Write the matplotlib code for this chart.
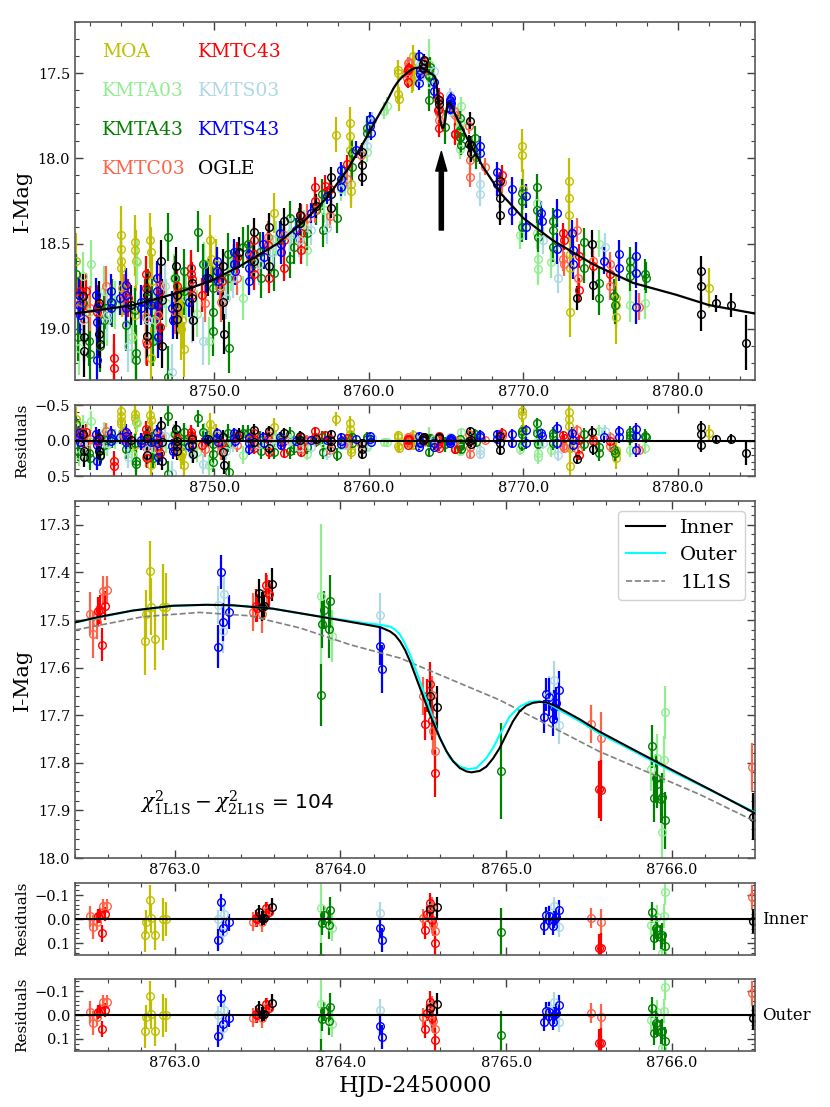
import numpy as np
import matplotlib
matplotlib.use("Agg")
import matplotlib.pyplot as plt
from matplotlib.ticker import MultipleLocator, FuncFormatter

plt.rcParams['font.family'] = 'DejaVu Serif'
plt.rcParams['mathtext.fontset'] = 'dejavuserif'

# ---- photometry (HJD-2450000, I mag, error) ----
moa_t = [8743.95, 8743.97, 8743.99, 8744.00, 8744.02, 8744.88, 8744.90, 8744.93, 8745.88, 8745.90, 8745.93,
         8747.90, 8748.02, 8749.75, 8749.78, 8753.90, 8757.88, 8758.78, 8758.80, 8758.82, 8758.84, 8758.86,
         8761.88, 8761.90, 8761.92, 8761.95,
         8762.82, 8762.83, 8762.85, 8762.86, 8762.88, 8762.93, 8762.95,
         8769.93, 8769.95, 8769.97, 8772.95, 8772.97, 8772.98, 8773.00, 8773.01, 8773.03, 8775.98, 8776.00,
         8776.02, 8782.00,
         8741.05, 8744.85, 8745.95, 8747.75, 8747.85, 8750.15]
moa_mag = [18.45, 18.53, 18.60, 18.64, 18.76, 18.49, 18.54, 18.60, 18.48, 18.55, 19.17,
           18.95, 19.12, 18.48, 18.59, 18.32, 17.86, 17.79, 17.87, 17.95, 18.15, 18.19,
           17.48, 17.50, 17.62, 17.65,
           17.545, 17.487, 17.397, 17.472, 17.540, 17.473, 17.472,
           17.93, 17.98, 18.18, 18.13, 18.23, 18.33, 18.56, 18.64, 18.90, 18.82, 18.86,
           18.93, 18.76,
           18.60, 18.92, 18.72, 18.86, 19.00, 18.62]
moa_err = [0.17, 0.16, 0.18, 0.15, 0.17, 0.16, 0.15, 0.18, 0.16, 0.15, 0.18,
           0.17, 0.16, 0.15, 0.14, 0.12, 0.10, 0.09, 0.10, 0.09, 0.11, 0.10,
           0.06, 0.05, 0.06, 0.07,
           0.070, 0.050, 0.063, 0.060, 0.065, 0.090, 0.070,
           0.10, 0.10, 0.12, 0.13, 0.12, 0.14, 0.15, 0.13, 0.15, 0.13, 0.14,
           0.16, 0.12,
           0.16, 0.17, 0.16, 0.17, 0.18, 0.15]

kmta03_t = [8741.25, 8741.50, 8742.03, 8742.90, 8743.60, 8745.04, 8746.20, 8747.40, 8748.90, 8749.34,
            8749.67, 8751.10, 8751.90, 8752.90, 8754.00, 8755.00, 8756.01, 8757.10, 8758.20, 8759.90,
            8760.96, 8761.17,
            8763.88, 8763.95, 8765.87, 8765.91, 8765.94, 8765.95, 8765.96,
            8769.80, 8770.90, 8770.92, 8770.94, 8770.96, 8771.80, 8774.90, 8776.90, 8777.90,
            8741.90, 8743.10, 8744.70, 8746.90, 8748.20, 8750.40, 8753.60, 8755.80]
kmta03_mag = [19.11, 18.69, 18.62, 18.78, 18.86, 18.61, 18.95, 18.70, 18.91, 18.62,
              19.07, 18.66, 18.82, 18.58, 18.47, 18.43, 18.54, 18.30, 18.18, 17.96,
              17.72, 17.69,
              17.449, 17.533, 17.814, 17.790, 17.946, 17.793, 17.694,
              18.45, 18.26, 18.44, 18.59, 18.65, 18.61, 18.50, 18.86, 18.85,
              18.90, 18.95, 19.05, 18.85, 18.82, 18.75, 18.55, 18.40]
kmta03_err = [0.16, 0.14, 0.14, 0.15, 0.14, 0.13, 0.15, 0.14, 0.14, 0.13,
              0.14, 0.12, 0.13, 0.11, 0.10, 0.10, 0.09, 0.08, 0.07, 0.06,
              0.05, 0.05,
              0.150, 0.055, 0.045, 0.050, 0.060, 0.050, 0.055,
              0.08, 0.08, 0.09, 0.10, 0.09, 0.09, 0.08, 0.10, 0.09,
              0.14, 0.15, 0.15, 0.14, 0.13, 0.13, 0.11, 0.10]

kmta43_t = [8741.05, 8741.20, 8741.90, 8741.95, 8742.90, 8743.00, 8744.90, 8744.92, 8744.95, 8745.50,
            8746.00, 8746.02, 8747.00, 8747.02, 8748.05, 8748.07, 8748.96, 8749.90, 8749.92, 8749.94,
            8750.90, 8750.92, 8750.94, 8751.90, 8752.50, 8753.00, 8753.02, 8753.86, 8754.90, 8754.92,
            8755.50, 8756.00, 8756.60, 8757.00, 8757.02, 8757.95, 8758.90, 8758.92, 8759.90, 8759.92,
            8763.88, 8763.89, 8763.90, 8763.93, 8763.94, 8764.97, 8765.88, 8765.89, 8765.90, 8765.91,
            8765.93, 8765.94, 8765.96,
            8766.90, 8766.92, 8769.90, 8769.92, 8769.94, 8770.90, 8770.92, 8770.94, 8771.90, 8771.92,
            8771.94, 8773.90, 8773.92, 8774.90, 8774.92, 8775.90, 8775.92, 8776.90, 8776.92, 8776.94,
            8777.90, 8777.92,
            8741.50, 8742.60, 8743.40, 8744.30, 8745.70, 8747.50, 8749.30, 8751.30, 8752.20, 8754.30,
            8755.20, 8758.30]
kmta43_mag = [18.68, 19.05, 19.07, 19.15, 18.95, 18.88, 18.89, 19.14, 19.18, 18.84,
              18.85, 19.07, 18.46, 19.28, 18.66, 18.78, 18.43, 18.76, 18.90, 19.01,
              18.56, 18.70, 19.11, 18.52, 18.62, 18.55, 18.70, 18.67, 18.35, 18.59,
              18.38, 18.44, 18.30, 18.21, 18.42, 18.35, 17.97, 18.05, 17.82, 17.85,
              17.657, 17.509, 17.479, 17.519, 17.461, 17.817, 17.765, 17.874, 17.832, 17.845,
              17.877, 17.872, 17.921,
              17.88, 17.99, 18.20, 18.25, 18.40, 18.17, 18.30, 18.46, 18.37, 18.42,
              18.52, 18.49, 18.64, 18.73, 18.82, 18.81, 18.86, 18.60, 18.64, 18.69,
              18.68, 18.70,
              18.85, 19.10, 18.85, 18.98, 18.78, 18.70, 18.62, 18.62, 18.50, 18.47,
              18.52, 18.12]
kmta43_err = [0.12, 0.14, 0.15, 0.16, 0.14, 0.12, 0.13, 0.16, 0.17, 0.13,
              0.14, 0.15, 0.14, 0.18, 0.13, 0.14, 0.12, 0.13, 0.14, 0.15,
              0.12, 0.13, 0.15, 0.12, 0.11, 0.12, 0.12, 0.11, 0.10, 0.11,
              0.09, 0.10, 0.09, 0.09, 0.10, 0.09, 0.08, 0.08, 0.07, 0.07,
              0.065, 0.050, 0.040, 0.060, 0.055, 0.100, 0.045, 0.050, 0.050, 0.050,
              0.050, 0.050, 0.060,
              0.07, 0.07, 0.08, 0.08, 0.09, 0.08, 0.08, 0.09, 0.08, 0.08,
              0.09, 0.08, 0.09, 0.09, 0.10, 0.10, 0.11, 0.08, 0.08, 0.09,
              0.09, 0.09,
              0.14, 0.15, 0.14, 0.15, 0.13, 0.13, 0.12, 0.12, 0.11, 0.10,
              0.10, 0.08]

kmtc03_t = [8741.20, 8742.00, 8743.00, 8745.60, 8745.62, 8746.50, 8747.50, 8748.50, 8750.40, 8750.42,
            8751.50, 8752.60, 8753.50, 8754.50, 8755.60, 8756.50, 8757.50, 8758.60, 8759.50,
            8762.49, 8762.51, 8762.53, 8762.57, 8762.59, 8763.47, 8763.53, 8763.56, 8764.50, 8764.55,
            8764.56, 8764.57, 8765.51, 8765.57, 8766.48,
            8766.56, 8766.58, 8767.50, 8768.60, 8772.60, 8772.62, 8773.50, 8773.52, 8774.50, 8775.60,
            8775.62, 8777.50,
            8741.40, 8742.60, 8744.20, 8746.40, 8749.40, 8752.30, 8756.00]
kmtc03_mag = [18.82, 18.88, 18.75, 18.93, 19.07, 18.74, 18.90, 18.76, 18.76, 18.84,
              18.70, 18.64, 18.46, 18.45, 18.50, 18.30, 18.34, 18.12, 17.98,
              17.487, 17.530, 17.505, 17.438, 17.437, 17.483, 17.488, 17.440, 17.659, 17.657,
              17.734, 17.775, 17.719, 17.748, 17.809,
              18.01, 18.11, 18.05, 18.14, 18.59, 18.62, 18.42, 18.70, 18.60, 18.62,
              18.75, 18.87,
              18.84, 18.90, 18.80, 18.92, 18.85, 18.58, 18.35]
kmtc03_err = [0.12, 0.13, 0.12, 0.13, 0.14, 0.12, 0.13, 0.11, 0.11, 0.12,
              0.10, 0.09, 0.09, 0.09, 0.08, 0.08, 0.07, 0.06, 0.06,
              0.045, 0.050, 0.035, 0.030, 0.030, 0.040, 0.040, 0.035, 0.040, 0.040,
              0.050, 0.050, 0.040, 0.055, 0.050,
              0.06, 0.06, 0.05, 0.06, 0.07, 0.07, 0.07, 0.08, 0.07, 0.07,
              0.08, 0.08,
              0.12, 0.13, 0.12, 0.12, 0.11, 0.10, 0.08]

kmtc43_t = [8741.60, 8741.70, 8742.50, 8743.50, 8743.52, 8745.60, 8745.62, 8745.64, 8746.50, 8746.52,
            8748.50, 8748.52, 8748.54, 8748.56, 8750.50, 8752.57, 8752.59, 8752.61, 8753.50, 8753.52,
            8754.50, 8754.52, 8755.60, 8755.62, 8755.64, 8756.50, 8756.52, 8757.50, 8758.60,
            8762.54, 8762.55, 8762.56, 8762.58, 8763.49, 8763.50, 8763.55, 8763.57, 8764.51, 8764.52,
            8764.54, 8764.55, 8764.57, 8765.56, 8765.57,
            8768.60, 8772.60, 8772.62, 8773.60, 8773.62, 8774.50, 8775.60,
            8741.30, 8742.40, 8744.40, 8746.30, 8747.60, 8749.20, 8751.50, 8757.20]
kmtc43_mag = [18.94, 18.78, 18.86, 19.17, 19.23, 18.68, 18.76, 19.09, 18.78, 18.99,
              18.64, 18.68, 18.71, 18.80, 18.72, 18.48, 18.56, 18.68, 18.51, 18.70,
              18.48, 18.64, 18.34, 18.44, 18.54, 18.17, 18.25, 18.18, 18.03,
              17.482, 17.478, 17.552, 17.470, 17.470, 17.475, 17.427, 17.445, 17.718, 17.659,
              17.634, 17.711, 17.822, 17.856, 17.858,
              18.10, 18.44, 18.48, 18.57, 18.77, 18.63, 18.68,
              18.78, 18.90, 18.82, 18.86, 18.75, 18.80, 18.58, 18.16]
kmtc43_err = [0.12, 0.11, 0.12, 0.14, 0.14, 0.11, 0.11, 0.13, 0.11, 0.12,
              0.10, 0.10, 0.10, 0.11, 0.10, 0.08, 0.08, 0.09, 0.08, 0.09,
              0.08, 0.08, 0.07, 0.07, 0.08, 0.06, 0.06, 0.05, 0.05,
              0.030, 0.030, 0.035, 0.030, 0.035, 0.030, 0.025, 0.030, 0.035, 0.035,
              0.045, 0.040, 0.050, 0.060, 0.065,
              0.06, 0.06, 0.06, 0.07, 0.07, 0.06, 0.07,
              0.11, 0.12, 0.11, 0.11, 0.10, 0.10, 0.09, 0.06]

kmts03_t = [8741.50, 8744.40, 8746.80, 8747.30, 8749.30, 8751.20, 8752.90, 8754.90, 8756.30, 8757.30,
            8758.50, 8759.90, 8760.20,
            8763.26, 8763.29, 8763.30, 8764.24, 8765.26, 8765.29, 8765.32,
            8767.20, 8767.22, 8771.30, 8772.25, 8775.30,
            8743.10, 8745.70, 8748.60, 8750.80, 8753.80, 8755.50]
kmts03_mag = [18.95, 19.10, 18.75, 19.25, 19.07, 18.70, 18.62, 18.45, 18.42, 18.41,
              18.15, 17.93, 17.78,
              17.469, 17.524, 17.446, 17.489, 17.657, 17.627, 17.720,
              18.15, 18.21, 18.48, 18.70, 18.52,
              18.92, 18.95, 18.95, 18.82, 18.55, 18.48]
kmts03_err = [0.14, 0.15, 0.13, 0.16, 0.14, 0.12, 0.12, 0.10, 0.09, 0.09,
              0.07, 0.06, 0.05,
              0.040, 0.045, 0.040, 0.045, 0.040, 0.040, 0.040,
              0.07, 0.07, 0.08, 0.09, 0.08,
              0.14, 0.14, 0.13, 0.12, 0.10, 0.10]

kmts43_t = [8741.26, 8741.28, 8741.30, 8742.38, 8742.40, 8742.42, 8742.44, 8743.30, 8743.32, 8743.34,
            8744.28, 8744.30, 8744.32, 8745.26, 8745.28, 8746.30, 8746.32, 8746.34, 8746.36, 8747.30,
            8747.32, 8750.18, 8750.20, 8750.22, 8751.28, 8751.30, 8751.32, 8752.23, 8752.25, 8752.27,
            8753.18, 8753.20, 8754.28, 8754.30, 8754.32, 8757.30, 8758.18, 8758.20, 8758.22, 8760.08,
            8760.10, 8760.12,
            8763.26, 8763.28, 8763.29, 8763.33, 8764.24, 8764.25, 8765.23, 8765.24, 8765.26, 8765.28,
            8765.29, 8765.30, 8765.32,
            8767.18, 8767.20, 8768.28, 8768.30, 8769.28, 8769.30, 8770.18, 8770.20, 8771.18, 8771.20,
            8772.18, 8772.20, 8773.18, 8773.20, 8773.22, 8775.20, 8776.18, 8776.20, 8777.28, 8777.30,
            8777.32,
            8743.90, 8745.90, 8748.40, 8749.50, 8755.30, 8756.30, 8759.20]
kmts43_mag = [18.80, 18.86, 18.92, 18.80, 18.88, 18.96, 19.18, 18.78, 18.84, 18.88,
              18.74, 18.80, 18.88, 18.84, 18.88, 18.70, 18.78, 18.86, 19.05, 18.88,
              18.95, 18.60, 18.66, 18.72, 18.55, 18.62, 18.66, 18.56, 18.64, 18.72,
              18.50, 18.58, 18.44, 18.50, 18.55, 18.22, 18.07, 18.12, 18.17, 17.77,
              17.81, 17.85,
              17.556, 17.399, 17.505, 17.483, 17.554, 17.603, 17.703, 17.656, 17.662, 17.708,
              17.683, 17.675, 17.647,
              17.93, 17.97, 18.08, 18.15, 18.18, 18.31, 18.22, 18.40, 18.32, 18.37,
              18.32, 18.53, 18.44, 18.54, 18.62, 18.60, 18.56, 18.64, 18.57, 18.67,
              18.87,
              18.82, 18.86, 18.84, 18.70, 18.42, 18.32, 17.95]
kmts43_err = [0.10, 0.10, 0.11, 0.10, 0.11, 0.11, 0.13, 0.10, 0.10, 0.10,
              0.10, 0.10, 0.11, 0.10, 0.10, 0.10, 0.10, 0.11, 0.12, 0.10,
              0.11, 0.08, 0.08, 0.08, 0.08, 0.08, 0.08, 0.07, 0.08, 0.08,
              0.07, 0.07, 0.07, 0.07, 0.07, 0.05, 0.05, 0.05, 0.05, 0.04,
              0.04, 0.04,
              0.045, 0.035, 0.040, 0.035, 0.040, 0.050, 0.035, 0.035, 0.040, 0.035,
              0.035, 0.035, 0.040,
              0.06, 0.06, 0.06, 0.07, 0.07, 0.08, 0.07, 0.08, 0.07, 0.08,
              0.08, 0.09, 0.08, 0.09, 0.09, 0.08, 0.08, 0.08, 0.08, 0.09,
              0.10,
              0.10, 0.10, 0.09, 0.09, 0.07, 0.06, 0.05]

ogle_t = [8741.54, 8741.56, 8741.58, 8742.55, 8742.57, 8742.59, 8745.63, 8745.65, 8746.58, 8746.60,
          8746.62, 8747.56, 8747.58, 8747.60, 8747.62, 8748.58, 8748.60, 8748.62, 8750.58, 8750.60,
          8750.62, 8752.55, 8752.57, 8753.54, 8753.56, 8754.50, 8755.56, 8755.58, 8757.54, 8757.56,
          8757.58, 8759.54, 8759.56, 8759.58,
          8763.51, 8763.53, 8763.54, 8763.59, 8764.54, 8764.58, 8766.49,
          8766.58, 8766.60, 8766.62, 8768.48, 8768.50, 8768.52, 8773.50, 8774.48, 8774.50, 8781.48,
          8781.50, 8781.52, 8782.50, 8783.46, 8784.40,
          8744.60, 8749.60, 8751.60, 8756.60]
ogle_mag = [18.81, 19.05, 19.13, 18.85, 19.03, 19.09, 18.80, 19.04, 18.60, 18.83,
            19.10, 18.63, 18.80, 18.87, 18.94, 18.73, 18.82, 18.95, 18.63, 18.84,
            19.03, 18.43, 18.60, 18.40, 18.63, 18.37, 18.33, 18.38, 18.11, 18.21,
            18.29, 17.96, 18.04, 18.11,
            17.444, 17.472, 17.470, 17.425, 17.659, 17.683, 17.913,
            17.78, 17.92, 17.97, 18.13, 18.23, 18.33, 18.82, 18.50, 18.74, 18.66,
            18.75, 18.91, 18.85, 18.86, 19.08,
            18.86, 18.70, 18.55, 18.28]
ogle_err = [0.13, 0.14, 0.15, 0.13, 0.14, 0.14, 0.12, 0.13, 0.12, 0.12,
            0.13, 0.11, 0.11, 0.12, 0.12, 0.11, 0.11, 0.12, 0.10, 0.11,
            0.12, 0.08, 0.09, 0.08, 0.09, 0.08, 0.07, 0.07, 0.06, 0.06,
            0.06, 0.05, 0.05, 0.05,
            0.030, 0.030, 0.030, 0.035, 0.030, 0.045, 0.050,
            0.05, 0.05, 0.05, 0.05, 0.06, 0.06, 0.07, 0.08, 0.09, 0.09,
            0.09, 0.10, 0.05, 0.07, 0.16,
            0.12, 0.11, 0.09, 0.07]

names = ['MOA', 'KMTA03', 'KMTA43', 'KMTC03', 'KMTC43', 'KMTS03', 'KMTS43', 'OGLE']
colors = ['y', 'lightgreen', 'green', 'tomato', 'red', 'lightblue', 'blue', 'black']
all_t = [moa_t, kmta03_t, kmta43_t, kmtc03_t, kmtc43_t, kmts03_t, kmts43_t, ogle_t]
all_mag = [moa_mag, kmta03_mag, kmta43_mag, kmtc03_mag, kmtc43_mag, kmts03_mag, kmts43_mag, ogle_mag]
all_err = [moa_err, kmta03_err, kmta43_err, kmtc03_err, kmtc43_err, kmts03_err, kmts43_err, ogle_err]

# ---- model light curves ----
model_t = [8741.0, 8742.5, 8744.8, 8747.6, 8750.0, 8751.7, 8754.1, 8755.8, 8757.3, 8758.6,
           8759.9, 8760.5, 8761.2, 8761.6, 8761.8, 8762.0, 8762.2, 8762.4, 8762.55, 8762.75,
           8762.99, 8763.19, 8763.35, 8763.59, 8763.88, 8764.16, 8764.24, 8764.30, 8764.33, 8764.36,
           8764.39, 8764.42, 8764.48, 8764.54, 8764.60, 8764.64, 8764.68, 8764.72, 8764.76, 8764.79,
           8764.84, 8764.88, 8764.92, 8764.96, 8765.00, 8765.04, 8765.08, 8765.12, 8765.16, 8765.20,
           8765.24, 8765.28, 8765.32, 8765.44, 8765.56, 8765.76, 8766.00, 8766.25, 8766.50, 8767.40,
           8768.50, 8770.00, 8771.90, 8774.50, 8777.10, 8779.90, 8782.00, 8785.00]
model_inner = [18.91, 18.89, 18.86, 18.79, 18.71, 18.63, 18.50, 18.37, 18.23, 18.07,
               17.87, 17.77, 17.66, 17.59, 17.562, 17.538, 17.520, 17.505, 17.493, 17.480,
               17.470, 17.468, 17.469, 17.476, 17.493, 17.510, 17.515, 17.524, 17.532, 17.545,
               17.563, 17.587, 17.643, 17.699, 17.748, 17.776, 17.797, 17.811, 17.818, 17.820,
               17.817, 17.808, 17.791, 17.769, 17.741, 17.713, 17.692, 17.680, 17.674, 17.672,
               17.673, 17.678, 17.685, 17.708, 17.734, 17.771, 17.815, 17.860, 17.906, 18.05,
               18.20, 18.35, 18.48, 18.62, 18.73, 18.80, 18.86, 18.91]

outer_t = [8762.40, 8762.75, 8762.99, 8763.19, 8763.35, 8763.59, 8763.88, 8764.16, 8764.24, 8764.30,
           8764.33, 8764.36, 8764.39, 8764.42, 8764.48, 8764.54, 8764.60, 8764.66, 8764.72, 8764.77,
           8764.82, 8764.88, 8764.92, 8764.96, 8765.02, 8765.08, 8765.14, 8765.20, 8765.26, 8765.32,
           8765.44, 8765.56, 8765.76, 8766.00, 8766.25, 8766.50]
outer_mag = [17.505, 17.480, 17.470, 17.468, 17.469, 17.476, 17.493, 17.507, 17.510, 17.514,
             17.520, 17.531, 17.550, 17.573, 17.629, 17.688, 17.748, 17.790, 17.808, 17.813,
             17.811, 17.790, 17.769, 17.741, 17.703, 17.682, 17.672, 17.670, 17.676, 17.689,
             17.712, 17.738, 17.774, 17.818, 17.861, 17.904]

pspl_t = [8762.40, 8762.81, 8763.15, 8763.45, 8763.76, 8764.06, 8764.36, 8764.96, 8765.56, 8766.17, 8766.50]
pspl_mag = [17.521, 17.493, 17.484, 17.491, 17.517, 17.552, 17.580, 17.668, 17.776, 17.867, 17.923]


def fmt1(v, pos):
    return ('%.1f' % v).replace('-', '\u2212')


def style(ax, xmaj, xmin, ymaj, ymin):
    ax.xaxis.set_major_locator(MultipleLocator(xmaj))
    ax.xaxis.set_minor_locator(MultipleLocator(xmin))
    ax.yaxis.set_major_locator(MultipleLocator(ymaj))
    ax.yaxis.set_minor_locator(MultipleLocator(ymin))
    ax.xaxis.set_major_formatter(FuncFormatter(fmt1))
    ax.yaxis.set_major_formatter(FuncFormatter(fmt1))
    ax.tick_params(which='both', direction='in', top=True, right=True, labelsize=10.5, color='0.25')
    ax.tick_params(which='major', length=6, width=1)
    ax.tick_params(which='minor', length=3, width=0.8)
    for s in ax.spines.values():
        s.set_color('0.35')
        s.set_linewidth(1.2)


fig = plt.figure(figsize=(8.3, 11.07), dpi=100)
ax1 = fig.add_axes([0.0904, 0.6567, 0.8193, 0.3234])
ax2 = fig.add_axes([0.0904, 0.5700, 0.8193, 0.0641])
ax3 = fig.add_axes([0.0904, 0.2249, 0.8193, 0.3225])
ax4 = fig.add_axes([0.0904, 0.1373, 0.8193, 0.0650])
ax5 = fig.add_axes([0.0904, 0.0506, 0.8193, 0.0650])

x1lim = (8741.0, 8785.0)
x3lim = (8762.4, 8766.5)

for name, col, t, m, e in zip(names, colors, all_t, all_mag, all_err):
    t = np.array(t)
    m = np.array(m)
    e = np.array(e)
    kw = dict(fmt='o', color=col, mfc='none', ms=5.5, mew=1.0, elinewidth=1.6, capsize=0)
    ax1.errorbar(t, m, e, **kw)
    res_in = m - np.interp(t, model_t, model_inner)
    ax2.errorbar(t, res_in, e, **kw)
    sel = (t > x3lim[0] - 0.05) & (t < x3lim[1] + 0.05)
    ax3.errorbar(t[sel], m[sel], e[sel], **kw)
    ax4.errorbar(t[sel], res_in[sel], e[sel], **kw)
    res_out = m - np.interp(t, outer_t, outer_mag)
    ax5.errorbar(t[sel], res_out[sel], e[sel], **kw)

# top panel
ax1.plot(model_t, model_inner, color='k', lw=1.6, zorder=5)
ax1.set_xlim(*x1lim)
ax1.set_ylim(19.3, 17.2)
style(ax1, 10, 2, 0.5, 0.1)
ax1.set_ylabel('I-Mag', fontsize=15)
for i, (name, col) in enumerate(zip(names, colors)):
    ax1.text(0.040 + 0.141 * (i // 4), 0.916 - 0.109 * (i % 4), name, color=col,
             fontsize=13.5, transform=ax1.transAxes, va='center')
ax1.annotate('', xy=(8764.7, 17.96), xytext=(8764.7, 18.42),
             arrowprops=dict(facecolor='black', edgecolor='black', width=3, headwidth=8,
                             headlength=14, shrink=0))

ax2.axhline(0, color='k', lw=1.5, zorder=5)
ax2.set_xlim(*x1lim)
ax2.set_ylim(0.5, -0.5)
style(ax2, 10, 2, 0.5, 0.1)
ax2.set_ylabel('Residuals', fontsize=11)

# zoomed panel
l_out, = ax3.plot(outer_t, outer_mag, color='cyan', lw=1.5, label='Outer', zorder=4)
l_in, = ax3.plot(model_t, model_inner, color='k', lw=1.5, label='Inner', zorder=5)
l_ps, = ax3.plot(pspl_t, pspl_mag, '--', color='gray', lw=1.2, label='1L1S', zorder=3)
ax3.set_xlim(*x3lim)
ax3.set_ylim(18.0, 17.25)
style(ax3, 1.0, 0.2, 0.1, 0.02)
ax3.set_ylabel('I-Mag', fontsize=15)
ax3.legend(handles=[l_in, l_out, l_ps], loc='upper right', fontsize=14, fancybox=True,
           edgecolor='0.8', framealpha=0.9)
ax3.text(8762.79, 17.884, r'$\chi^2_{\rm 1L1S}-\chi^2_{\rm 2L1S}$ = 104', fontsize=14.5,
         family='DejaVu Sans', va='center', ha='left')

for ax, lab in [(ax4, 'Inner'), (ax5, 'Outer')]:
    ax.axhline(0, color='k', lw=1.5, zorder=5)
    ax.set_xlim(*x3lim)
    ax.set_ylim(0.15, -0.15)
    style(ax, 1.0, 0.2, 0.1, 0.02)
    ax.set_ylabel('Residuals', fontsize=11)
    ax.text(1.01, 0.5, lab, transform=ax.transAxes, fontsize=12, va='center', ha='left')
ax4.tick_params(labelbottom=False)
ax5.set_xlabel('HJD-2450000', fontsize=16)

fig.savefig('out.png', dpi=100)
